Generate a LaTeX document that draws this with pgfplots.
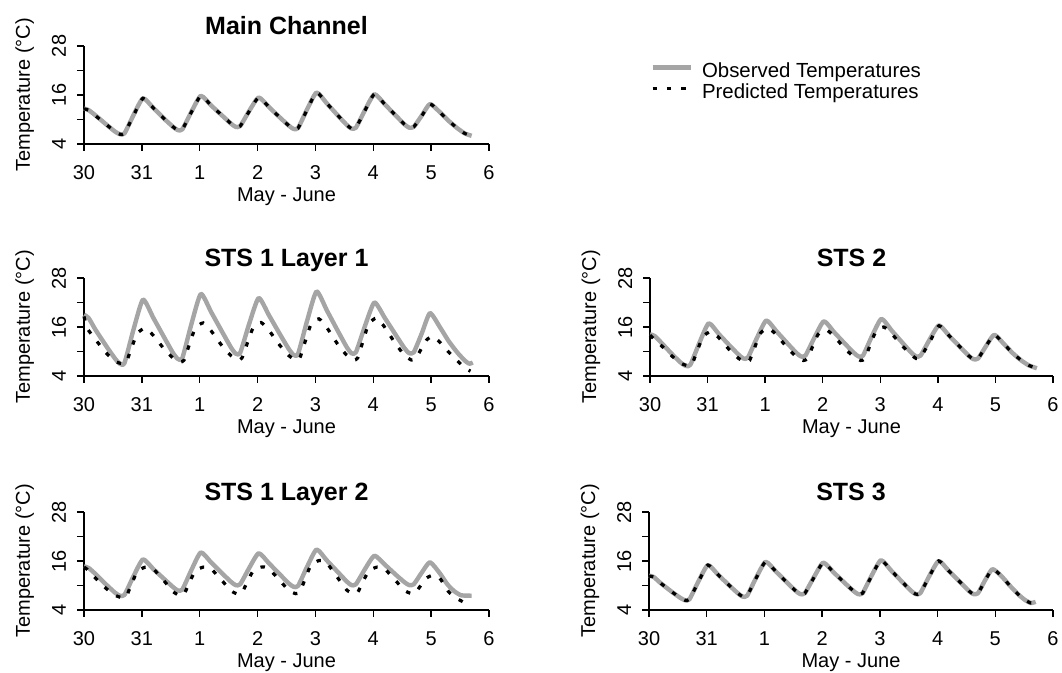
\documentclass[border=0pt]{standalone}
\usepackage{fontspec}
\setmainfont{Liberation Sans}
\usepackage{pgfplots}
\usepackage{pgfplotstable}
\pgfplotsset{compat=1.18}

\pgfplotstableread{
x y
0 12.7
0.08 12.3
0.2 11.0
0.4 8.6
0.54 7.0
0.62 6.4
0.7 6.6
0.86 11.2
1.02 15.2
1.2 12.8
1.4 10.0
1.54 8.2
1.62 7.4
1.7 7.6
1.86 12.0
2.02 15.8
2.2 13.4
2.4 10.8
2.54 9.0
2.62 8.2
2.7 8.4
2.86 12.2
3.02 15.4
3.2 13.0
3.4 10.3
3.54 8.5
3.62 7.7
3.7 7.9
3.86 12.6
4.02 16.6
4.2 13.9
4.4 10.8
4.54 8.7
4.62 7.8
4.7 8.0
4.86 12.4
5.02 16.2
5.2 13.7
5.4 10.8
5.54 8.8
5.62 8.0
5.7 8.2
5.84 11.0
5.98 13.8
6.15 11.8
6.3 9.7
6.45 7.9
6.58 6.6
6.7 6.0
}\mainobs

\pgfplotstableread{
x y
0 12.6
0.08 12.3
0.2 10.9
0.4 8.6
0.54 7.0
0.62 6.4
0.7 6.6
0.86 11.1
1.02 15.2
1.2 12.8
1.4 10.0
1.54 8.2
1.62 7.4
1.7 7.6
1.86 11.9
2.02 15.8
2.2 13.4
2.4 10.8
2.54 9.0
2.62 8.2
2.7 8.4
2.86 12.1
3.02 15.4
3.2 13.0
3.4 10.3
3.54 8.5
3.62 7.7
3.7 7.9
3.86 12.5
4.02 16.6
4.2 13.9
4.4 10.8
4.54 8.7
4.62 7.8
4.7 8.0
4.86 12.3
5.02 16.2
5.2 13.7
5.4 10.8
5.54 8.8
5.62 8.0
5.7 8.2
5.84 10.9
5.98 13.8
6.15 11.8
6.3 9.7
6.45 7.9
6.58 6.6
6.7 6.0
}\mainpred

\pgfplotstableread{
x y
0 19.0
0.08 18.2
0.2 15.3
0.4 11.0
0.54 8.2
0.62 7.0
0.7 7.2
0.86 15.6
1.02 22.7
1.2 18.2
1.4 13.1
1.54 9.6
1.62 8.2
1.7 8.4
1.86 16.9
2.02 24.1
2.2 19.6
2.4 14.5
2.54 11.0
2.62 9.5
2.7 9.7
2.86 17.0
3.02 23.1
3.2 18.8
3.4 13.9
3.54 10.6
3.62 9.2
3.7 9.4
3.86 17.7
4.02 24.7
4.2 20.0
4.4 14.7
4.54 11.1
4.62 9.6
4.7 9.8
4.86 16.4
5.02 22.0
5.2 18.2
5.4 13.8
5.54 10.8
5.62 9.6
5.7 9.8
5.84 14.5
5.98 19.4
6.15 16.0
6.3 12.6
6.45 9.8
6.58 7.8
6.66 7.0
6.72 7.3
}\laob

\pgfplotstableread{
x y
0 18.6
0.06 15.6
0.2 12.9
0.38 9.7
0.54 7.6
0.66 7.0
0.73 7.4
0.8 10.0
0.92 14.4
1.06 15.7
1.2 13.9
1.38 10.7
1.54 8.4
1.66 7.4
1.73 7.9
1.8 10.8
1.92 15.6
2.06 17.0
2.2 15.0
2.38 11.5
2.54 9.0
2.66 7.9
2.73 8.4
2.8 11.1
2.92 15.7
3.06 17.1
3.2 15.1
3.38 11.6
3.54 9.0
3.66 7.9
3.73 8.4
3.8 11.4
3.92 16.5
4.06 18.0
4.2 15.8
4.38 11.9
4.54 9.1
4.66 7.9
4.73 8.4
4.8 11.5
4.92 16.7
5.06 18.2
5.2 15.9
5.38 12.0
5.54 9.1
5.66 7.9
5.73 8.2
5.8 9.9
5.92 12.8
6.03 13.7
6.15 12.3
6.3 9.9
6.45 7.8
6.58 6.0
6.68 5.2
}\lapr

\pgfplotstableread{
x y
0 14.7
0.08 14.3
0.2 12.8
0.4 10.0
0.54 8.2
0.62 7.5
0.7 7.7
0.86 12.4
1.02 16.4
1.2 14.0
1.4 11.4
1.54 9.6
1.62 8.8
1.7 9.0
1.86 13.9
2.02 18.1
2.2 15.6
2.4 12.8
2.54 10.9
2.62 10.1
2.7 10.3
2.86 14.4
3.02 17.9
3.2 15.4
3.4 12.5
3.54 10.5
3.62 9.7
3.7 9.9
3.86 14.7
4.02 18.8
4.2 16.1
4.4 13.1
4.54 11.0
4.62 10.1
4.7 10.3
4.86 14.1
5.02 17.3
5.2 15.1
5.4 12.5
5.54 10.8
5.62 10.1
5.7 10.3
5.84 13.2
5.98 15.7
6.15 13.0
6.28 10.3
6.4 8.6
6.52 7.6
6.7 7.5
}\lbob

\pgfplotstableread{
x y
0 14.5
0.06 13.9
0.2 11.8
0.38 9.3
0.54 7.6
0.66 7.0
0.73 7.3
0.8 9.6
0.92 13.4
1.06 14.5
1.18 14.3
1.38 11.2
1.54 8.5
1.66 7.5
1.73 7.9
1.8 10.0
1.92 13.5
2.06 14.5
2.18 14.3
2.38 11.3
2.54 8.7
2.66 7.9
2.73 8.2
2.8 10.2
2.92 13.5
3.06 14.5
3.18 14.3
3.38 11.3
3.54 8.8
3.66 8.0
3.73 8.4
3.8 10.8
3.92 14.9
4.06 16.1
4.18 15.8
4.38 12.0
4.54 8.9
4.66 8.0
4.73 8.3
4.8 10.3
4.92 13.5
5.06 14.5
5.18 14.3
5.38 11.3
5.54 8.8
5.66 8.0
5.73 8.2
5.8 9.6
5.92 11.8
6.03 12.5
6.15 11.8
6.3 8.5
6.45 6.8
6.55 6.0
}\lbpr

\pgfplotstableread{
x y
0 14.2
0.08 13.8
0.2 12.1
0.4 9.1
0.54 7.2
0.62 6.5
0.7 6.7
0.86 12.2
1.02 16.9
1.2 14.2
1.4 11.2
1.54 9.2
1.62 8.3
1.7 8.5
1.86 13.4
2.02 17.6
2.2 14.9
2.4 11.8
2.54 9.7
2.62 8.8
2.7 9.0
2.86 13.5
3.02 17.4
3.2 14.7
3.4 11.7
3.54 9.7
3.62 8.8
3.7 9.0
3.86 13.9
4.02 18.0
4.2 15.1
4.4 11.9
4.54 9.7
4.62 8.8
4.7 9.0
4.86 13.0
5.02 16.4
5.2 13.8
5.4 10.9
5.54 8.9
5.62 8.1
5.7 8.3
5.84 11.4
5.98 14.1
6.15 11.8
6.3 9.6
6.45 7.8
6.58 6.6
6.72 5.9
}\stbob

\pgfplotstableread{
x y
0 14.0
0.06 13.2
0.2 11.4
0.38 8.9
0.54 7.1
0.66 6.5
0.73 6.9
0.8 9.4
0.92 13.6
1.06 14.9
1.2 13.3
1.38 10.4
1.54 8.3
1.66 7.4
1.73 7.8
1.8 10.3
1.92 14.5
2.06 15.7
2.2 14.0
2.38 11.0
2.54 8.7
2.66 7.8
2.73 8.2
2.8 10.4
2.92 14.2
3.06 15.3
3.2 13.7
3.38 10.8
3.54 8.7
3.66 7.8
3.73 8.2
3.8 10.7
3.92 14.8
4.06 16.0
4.2 14.3
4.38 11.4
4.54 9.2
4.62 8.3
4.7 8.6
4.86 12.4
5.02 16.3
5.2 13.8
5.4 10.9
5.54 8.9
5.62 8.1
5.7 8.3
5.84 11.4
5.98 14.1
6.15 11.8
6.3 9.6
6.45 7.8
6.58 6.6
6.72 5.9
}\stbpr

\pgfplotstableread{
x y
0 12.4
0.08 12.1
0.2 10.6
0.4 8.4
0.54 7.0
0.62 6.4
0.7 6.6
0.86 11.1
1.02 15.0
1.2 12.6
1.4 9.9
1.54 8.1
1.62 7.3
1.7 7.5
1.86 12.0
2.02 15.8
2.2 13.4
2.4 10.6
2.54 8.7
2.62 7.9
2.7 8.1
2.86 12.1
3.02 15.6
3.2 13.2
3.4 10.5
3.54 8.7
3.62 7.9
3.7 8.1
3.86 12.5
4.02 16.2
4.2 13.6
4.4 10.7
4.54 8.7
4.62 7.9
4.7 8.1
4.86 12.4
5.02 16.0
5.2 13.5
5.4 10.7
5.54 8.7
5.62 7.9
5.7 8.1
5.82 11.2
5.95 14.0
6.1 12.4
6.25 10.0
6.4 7.8
6.52 6.4
6.62 5.7
6.7 6.0
}\stcob

\pgfplotstableread{
x y
0 12.3
0.08 12.1
0.2 10.6
0.4 8.4
0.54 7.0
0.62 6.4
0.7 6.6
0.86 11.0
1.02 15.0
1.2 12.6
1.4 9.9
1.54 8.1
1.62 7.3
1.7 7.5
1.86 11.9
2.02 15.8
2.2 13.4
2.4 10.6
2.54 8.7
2.62 7.9
2.7 8.1
2.86 12.0
3.02 15.6
3.2 13.2
3.4 10.5
3.54 8.7
3.62 7.9
3.7 8.1
3.86 12.4
4.02 16.2
4.2 13.6
4.4 10.7
4.54 8.7
4.62 7.9
4.7 8.1
4.86 12.3
5.02 16.0
5.2 13.5
5.4 10.7
5.54 8.7
5.62 7.9
5.7 8.1
5.82 11.1
5.95 14.0
6.1 12.4
6.25 10.0
6.4 7.8
6.52 6.4
6.62 5.7
6.7 6.0
}\stcpr

\definecolor{obsgray}{RGB}{165,165,165}

\pgfplotsset{
  panel/.style={
    scale only axis, width=202.5pt, height=49pt,
    xmin=0, xmax=7, ymin=4, ymax=28,
    axis x line*=bottom, axis y line*=left,
    axis line style={line width=0.75pt, -},
    xtick={0,1,2,3,4,5,6,7}, xticklabels={30,31,1,2,3,4,5,6},
    ytick={4,10,16,22,28}, yticklabels={4,,16,,28},
    tick align=outside, major tick length=3.5pt,
    tick style={line width=0.75pt, black},
    /pgf/number format/assume math mode=true,
    tick label style={font=\fontsize{10}{12}\selectfont},
    xticklabel style={anchor=base, yshift=-14.5pt},
    yticklabel style={xshift=-5.5pt, rotate=90, anchor=base},
    xlabel={May - June}, ylabel={Temperature (°C)},
    every axis x label/.style={at={(axis description cs:0.5,0)}, anchor=base, yshift=-29pt, font=\fontsize{10}{12}\selectfont},
    every axis y label/.style={at={(axis description cs:0,0.5)}, xshift=-27pt, rotate=90, anchor=base, font=\fontsize{10}{12}\selectfont},
    every axis title/.style={at={(axis description cs:0.5,1)}, anchor=base, yshift=5.5pt, font=\fontsize{12.5}{15}\selectfont\bfseries},
    clip=false,
  },
  obs/.style={color=obsgray, line width=2.2pt, line join=round, no markers, smooth, tension=0.35},
  pred/.style={color=black, line width=1.6pt, dash pattern=on 2.2pt off 5pt, no markers, smooth, tension=0.35},
}

\begin{document}
\begin{tikzpicture}
\path[use as bounding box] (0pt,0pt) rectangle (531pt,-336.5pt);

\begin{axis}[panel, at={(42pt,-72pt)}, anchor=south west, title={Main Channel},
  legend cell align=left,
  legend image code/.code={\draw[#1, sharp plot] (0pt,2.5pt) -- (19pt,2.5pt); \path[draw=none,fill=none] (0pt,0pt) -- (24pt,0pt);},
  legend style={at={(axis description cs:1.3975,0.842)}, anchor=north west, draw=none, fill=none,
    inner sep=0pt, row sep=0pt, font=\fontsize{10.2}{12}\selectfont,
    nodes={inner sep=0.75pt, text height=7pt, text depth=2pt}}]
\addplot[obs] table {\mainobs};
\addlegendentry{Observed Temperatures}
\addplot[pred] table {\mainpred};
\addlegendentry{Predicted Temperatures}
\end{axis}

\begin{axis}[panel, at={(42pt,-188pt)}, anchor=south west, title={STS 1 Layer 1}]
\addplot[obs] table {\laob};
\addplot[pred] table {\lapr};
\end{axis}

\begin{axis}[panel, width=201.5pt, at={(325pt,-188pt)}, anchor=south west, title={STS 2}]
\addplot[obs] table {\stbob};
\addplot[pred] table {\stbpr};
\end{axis}

\begin{axis}[panel, at={(42pt,-305pt)}, anchor=south west, title={STS 1 Layer 2}]
\addplot[obs] table {\lbob};
\addplot[pred] table {\lbpr};
\end{axis}

\begin{axis}[panel, width=202pt, at={(324.5pt,-305pt)}, anchor=south west, title={STS 3}]
\addplot[obs] table {\stcob};
\addplot[pred] table {\stcpr};
\end{axis}
\end{tikzpicture}
\end{document}
